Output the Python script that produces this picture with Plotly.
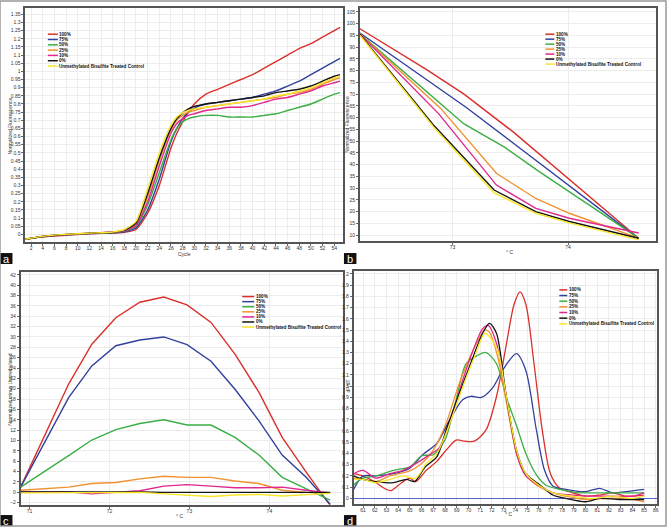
import plotly.graph_objects as go

W, H = 668, 527

NAMES = ["100%", "75%", "50%", "25%", "10%", "0%", "Unmethylated Bisulfite Treated Control"]
COLORS = ["#d9302c", "#33409c", "#3cae45", "#f0922e", "#e0288e", "#141414", "#f7e62a"]

# ---- panel a: amplification (normalized fluorescence vs cycle)
A_CYCLES = [1, 4, 8, 12, 16, 18, 20, 22, 24, 26, 27, 28, 29, 30, 32, 34, 36, 38, 40, 42, 44, 46, 48, 50, 52, 54, 55]
A_RED = [-0.03, -0.015, -0.005, 0.004, 0.008, 0.012, 0.03, 0.13, 0.30, 0.53, 0.62, 0.69, 0.75, 0.80, 0.86, 0.89, 0.92, 0.95, 0.98, 1.02, 1.06, 1.10, 1.14, 1.17, 1.21, 1.25, 1.27]
A_BLUE = [-0.03, -0.014, -0.003, 0.005, 0.010, 0.016, 0.04, 0.15, 0.34, 0.57, 0.65, 0.71, 0.75, 0.775, 0.80, 0.81, 0.82, 0.83, 0.84, 0.86, 0.88, 0.91, 0.94, 0.98, 1.02, 1.06, 1.08]
A_GREEN = [-0.03, -0.013, -0.002, 0.006, 0.012, 0.02, 0.05, 0.18, 0.38, 0.58, 0.65, 0.69, 0.71, 0.72, 0.73, 0.73, 0.72, 0.72, 0.72, 0.73, 0.74, 0.76, 0.78, 0.80, 0.83, 0.86, 0.87]
A_ORANGE = [-0.03, -0.012, 0.0, 0.007, 0.014, 0.025, 0.065, 0.23, 0.45, 0.64, 0.70, 0.73, 0.75, 0.76, 0.78, 0.79, 0.80, 0.81, 0.82, 0.83, 0.84, 0.86, 0.87, 0.89, 0.92, 0.95, 0.96]
A_PINK = [-0.03, -0.012, -0.002, 0.006, 0.016, 0.022, 0.055, 0.20, 0.42, 0.62, 0.68, 0.71, 0.73, 0.74, 0.76, 0.77, 0.78, 0.78, 0.79, 0.81, 0.83, 0.84, 0.86, 0.88, 0.91, 0.93, 0.94]
A_BLACK = [-0.03, -0.013, -0.001, 0.007, 0.013, 0.026, 0.07, 0.25, 0.47, 0.65, 0.71, 0.745, 0.77, 0.785, 0.80, 0.81, 0.82, 0.83, 0.84, 0.85, 0.87, 0.88, 0.89, 0.91, 0.94, 0.97, 0.98]
A_YELLOW = [-0.03, -0.012, 0.0, 0.008, 0.015, 0.03, 0.08, 0.28, 0.50, 0.67, 0.72, 0.745, 0.76, 0.77, 0.78, 0.79, 0.80, 0.81, 0.82, 0.83, 0.85, 0.86, 0.88, 0.90, 0.93, 0.96, 0.97]

# ---- panel b: normalized melt fluorescence vs temperature
B_RED_T = [72.20, 72.77, 73.10, 73.53, 74.61]
B_RED_V = [97.8, 80.6, 70.0, 53.7, 8.7]
B_BLUE_T = [72.20, 73.12, 73.53, 74.61]
B_BLUE_V = [96.0, 64.3, 49.0, 8.5]
B_GREEN_T = [72.20, 73.10, 73.45, 73.75, 74.61]
B_GREEN_V = [95.6, 57.3, 47.4, 37.0, 8.7]
B_ORANGE_T = [72.20, 72.90, 73.38, 73.72, 74.01, 74.61]
B_ORANGE_V = [95.6, 63.8, 36.3, 25.6, 19.3, 8.7]
B_PINK_T = [72.20, 72.88, 73.38, 73.72, 74.01, 74.61]
B_PINK_V = [95.6, 61.7, 31.3, 21.4, 17.2, 10.9]
B_BLACK_T = [72.20, 72.84, 73.36, 73.72, 74.01, 74.61]
B_BLACK_V = [95.4, 56.6, 29.2, 20.0, 15.8, 8.7]
B_YELLOW_T = [72.20, 72.84, 73.36, 73.72, 74.01, 74.61]
B_YELLOW_V = [95.0, 55.8, 28.0, 19.3, 15.2, 8.0]

# ---- panel c: normalized minus unmethylated
C_T = [70.89, 71.19, 71.49, 71.78, 72.08, 72.38, 72.68, 72.97, 73.27, 73.57, 73.87, 74.16, 74.46, 74.76]
C_RED = [1.0, 11.0, 20.9, 28.6, 33.7, 36.7, 37.7, 36.2, 32.8, 26.7, 19.3, 10.6, 3.9, -2.5]
C_BLUE = [1.0, 9.7, 18.3, 24.4, 28.3, 29.4, 30.0, 28.5, 25.3, 19.9, 13.8, 7.2, 2.9, -2.3]
C_GREEN = [1.0, 4.0, 7.1, 10.1, 12.1, 13.3, 14.0, 13.0, 13.0, 10.6, 7.2, 2.9, 0.7, -1.5]
C_ORANGE = [0.4, 0.7, 1.0, 1.7, 1.9, 2.6, 3.1, 2.9, 2.9, 2.2, 1.7, 0.4, 0.0, -0.2]
C_PINK = [0.1, 0.1, 0.1, -0.3, 0.0, 0.3, 1.2, 1.5, 1.2, 0.9, 0.9, 1.0, 0.4, -0.1]
C_BLACK = [0.1, 0.1, 0.15, 0.05, 0.1, 0.1, 0.0, 0.0, 0.0, 0.0, 0.0, 0.0, 0.0, 0.0]
C_YELLOW = [-0.1, -0.1, -0.1, 0.0, 0.0, 0.0, -0.3, -0.6, -0.8, -0.5, -0.4, -0.7, -0.4, -0.2]

# ---- panel d: dF/dT melt peaks
D_RED_T = [60.2, 61, 62.1, 63, 63.4, 64.3, 65, 65.5, 66.4, 67.3, 68.1, 68.95, 69.7, 70.5, 71.5, 72.4, 73.2, 73.9, 74.4, 74.9, 75.6, 76.3, 77, 77.8, 78.9, 80, 81.2, 82.3, 83.4, 85]
D_RED_V = [0.22, 0.20, 0.14, 0.08, 0.07, 0.14, 0.18, 0.15, 0.25, 0.33, 0.43, 0.52, 0.51, 0.51, 0.61, 0.91, 1.35, 1.73, 1.84, 1.73, 1.20, 0.61, 0.22, 0.09, 0.05, 0.02, 0.03, 0.05, 0.02, 0.03]
D_BLUE_T = [60.2, 61, 62.1, 63.6, 65, 66.1, 67.3, 68.4, 69.5, 70.2, 71.1, 72.1, 72.9, 74.1, 74.9, 75.8, 76.5, 77.2, 78.3, 80, 81.2, 82.3, 83.4, 85]
D_BLUE_V = [0.08, 0.2, 0.2, 0.22, 0.27, 0.39, 0.49, 0.70, 0.88, 0.91, 0.90, 0.99, 1.14, 1.29, 1.14, 0.61, 0.25, 0.11, 0.08, 0.06, 0.09, 0.05, 0.06, 0.08]
D_GREEN_T = [60.2, 61, 62.1, 63.3, 64.1, 65, 66, 67, 68, 68.95, 69.8, 70.7, 71.5, 72.4, 73.2, 74.1, 74.9, 75.8, 76.6, 77.8, 79.5, 81.2, 82.9, 85]
D_GREEN_V = [0.12, 0.18, 0.2, 0.24, 0.26, 0.28, 0.38, 0.39, 0.52, 0.88, 1.2, 1.27, 1.30, 1.2, 0.91, 0.65, 0.40, 0.21, 0.12, 0.08, 0.05, 0.05, 0.05, 0.05]
D_ORANGE_T = [60.2, 61, 62.1, 63.3, 64.1, 65.1, 66, 67, 68.1, 69.2, 70.4, 71.4, 71.8, 72.5, 73.2, 74.1, 74.8, 75.8, 77.2, 78.3, 80, 81.7, 83.4, 85]
D_ORANGE_V = [0.18, 0.17, 0.15, 0.2, 0.22, 0.25, 0.31, 0.43, 0.67, 1.02, 1.32, 1.50, 1.48, 1.26, 0.88, 0.40, 0.22, 0.12, 0.05, 0.02, -0.01, 0.0, 0.0, -0.03]
D_PINK_T = [60.2, 61, 62.1, 63.3, 64.4, 65.5, 66.7, 67.5, 68.4, 69.5, 70.4, 71.2, 71.7, 72.4, 73.2, 74.1, 74.9, 76.1, 77.2, 78.9, 80.6, 82.3, 84, 85]
D_PINK_V = [0.22, 0.25, 0.18, 0.22, 0.25, 0.31, 0.39, 0.45, 0.67, 1.05, 1.32, 1.51, 1.54, 1.38, 0.93, 0.40, 0.20, 0.11, 0.05, 0.03, 0.02, 0.02, 0.02, 0.05]
D_BLACK_T = [60.2, 61, 62.1, 63.6, 64.7, 65.4, 66.3, 67.3, 68.1, 69.2, 70.4, 71.2, 71.8, 72.4, 73.2, 74.1, 74.9, 76.1, 77.2, 78.3, 80, 81.2, 82.9, 85]
D_BLACK_V = [0.2, 0.17, 0.15, 0.14, 0.17, 0.15, 0.28, 0.37, 0.61, 0.93, 1.26, 1.47, 1.56, 1.47, 0.93, 0.43, 0.22, 0.12, 0.03, 0.0, -0.03, 0.0, -0.01, -0.01]
D_YELLOW_T = [60.2, 61, 62.1, 63.3, 64.4, 65.5, 66.4, 67.3, 68.2, 69.4, 70.4, 71.4, 71.8, 72.5, 73.2, 74.1, 74.9, 76.1, 77.2, 78.9, 80.6, 82.3, 84, 85]
D_YELLOW_V = [0.17, 0.17, 0.14, 0.17, 0.2, 0.18, 0.31, 0.4, 0.61, 0.96, 1.23, 1.47, 1.44, 1.32, 0.93, 0.43, 0.22, 0.11, 0.05, 0.02, 0.0, 0.02, 0.0, 0.02]


def fx(px):
    return px / W


def fy(py):
    return 1 - py / H


fig = go.Figure()

A_SERIES = [A_RED, A_BLUE, A_GREEN, A_ORANGE, A_PINK, A_BLACK, A_YELLOW]
for name, col, vals in zip(NAMES, COLORS, A_SERIES):
    fig.add_trace(go.Scatter(x=A_CYCLES, y=vals, mode="lines", name=name, showlegend=False,
                             line=dict(color=col, width=1.4, shape="spline", smoothing=0.6),
                             xaxis="x", yaxis="y"))

B_SERIES = [(B_RED_T, B_RED_V), (B_BLUE_T, B_BLUE_V), (B_GREEN_T, B_GREEN_V), (B_ORANGE_T, B_ORANGE_V),
            (B_PINK_T, B_PINK_V), (B_BLACK_T, B_BLACK_V), (B_YELLOW_T, B_YELLOW_V)]
for name, col, (t, v) in zip(NAMES, COLORS, B_SERIES):
    fig.add_trace(go.Scatter(x=t, y=v, mode="lines", name=name, showlegend=False,
                             line=dict(color=col, width=1.4), xaxis="x2", yaxis="y2"))

C_SERIES = [C_RED, C_BLUE, C_GREEN, C_ORANGE, C_PINK, C_BLACK, C_YELLOW]
for name, col, vals in zip(NAMES, COLORS, C_SERIES):
    fig.add_trace(go.Scatter(x=C_T, y=vals, mode="lines", name=name, showlegend=False,
                             line=dict(color=col, width=1.4), xaxis="x3", yaxis="y3"))

D_SERIES = [(D_RED_T, D_RED_V), (D_BLUE_T, D_BLUE_V), (D_GREEN_T, D_GREEN_V), (D_ORANGE_T, D_ORANGE_V),
            (D_PINK_T, D_PINK_V), (D_BLACK_T, D_BLACK_V), (D_YELLOW_T, D_YELLOW_V)]
for name, col, (t, v) in zip(NAMES, COLORS, D_SERIES):
    fig.add_trace(go.Scatter(x=t, y=v, mode="lines", name=name, showlegend=False,
                             line=dict(color=col, width=1.3, shape="spline", smoothing=0.8),
                             xaxis="x4", yaxis="y4"))

TICKFONT = dict(size=5, color="#333", family="Liberation Sans")


def ax(domain, rng, dtick, tick0, anchor, **kw):
    d = dict(domain=domain, range=rng, dtick=dtick, tick0=tick0, anchor=anchor,
             showline=True, linecolor="#555", linewidth=1.5, mirror=True,
             ticks="outside", ticklen=2, tickwidth=0.8, tickcolor="#666",
             tickfont=TICKFONT, showgrid=True, gridcolor="#ececec", gridwidth=0.6,
             zeroline=False)
    d.update(kw)
    return d


XKW = dict(ticklabelstandoff=-2)

fig.update_layout(
    width=W, height=H, margin=dict(l=0, r=0, t=0, b=0),
    paper_bgcolor="white", plot_bgcolor="white", showlegend=False,
    xaxis=ax([fx(25.3), fx(344)], [1, 55.5], 2, 0, "y", **XKW),
    yaxis=ax([fy(242.3), fy(7.3)], [-0.049, 1.387], 0.05, 0, "x"),
    xaxis2=ax([fx(361), fx(658)], [72.2, 74.76], 1, 0, "y2", **XKW),
    yaxis2=ax([fy(240.7), fy(7.3)], [7.6, 106.5], 5, 0, "x2"),
    xaxis3=ax([fx(20.7), fx(344)], [70.89, 74.92], 1, 0, "y3", **XKW),
    yaxis3=ax([fy(505.7), fy(271.7)], [-2.4, 42.6], 2, 0, "x3"),
    xaxis4=ax([fx(354.7), fx(659)], [60.2, 86.1], 1, 0, "y4", **XKW),
    yaxis4=ax([fy(504.7), fy(271.3)], [-0.048, 2.024], 0.1, 0, "x4",
              zeroline=True, zerolinecolor="#5566c8", zerolinewidth=1.2),
)

LEGFONT = dict(size=4.6, color="#111", family="Liberation Sans")


def add_legend(x_l0, x_l1, x_txt, y0, dy):
    for i, (name, col) in enumerate(zip(NAMES, COLORS)):
        y = y0 + i * dy
        fig.add_shape(type="line", xref="paper", yref="paper", x0=fx(x_l0), x1=fx(x_l1),
                      y0=fy(y), y1=fy(y), line=dict(color=col, width=1.5))
        fig.add_annotation(xref="paper", yref="paper", x=fx(x_txt), y=fy(y), text=f"<b>{name}</b>",
                           showarrow=False, xanchor="left", yanchor="middle", font=LEGFONT,
                           borderpad=0)


add_legend(48, 58, 58.5, 33.3, 5.33)
add_legend(547, 556, 556.5, 33.3, 5.0)
add_legend(243, 255, 255.5, 296.7, 5.1)
add_legend(561, 569, 569.5, 290, 5.67)

TITLEFONT = dict(size=5, color="#333", family="Liberation Sans")
Y_TITLES = [("Normalized Fluorescence", 10, 125), ("Normalized Fluorescence", 347.5, 124),
            ("Normalized minus Unmethylated", 9.3, 390), ("dF/dT", 349, 386)]
for txt, px, py in Y_TITLES:
    fig.add_annotation(xref="paper", yref="paper", x=fx(px), y=fy(py), text=txt, textangle=-90,
                       showarrow=False, xanchor="center", yanchor="middle", font=TITLEFONT)
X_TITLES = [("Cycle", 185, 254), ("° C", 510.7, 251.5), ("° C", 180, 516.5), ("° C", 510, 515)]
for txt, px, py in X_TITLES:
    fig.add_annotation(xref="paper", yref="paper", x=fx(px), y=fy(py), text=txt,
                       showarrow=False, xanchor="center", yanchor="middle", font=TITLEFONT)

# panel letters
for letter, px, py in [("a", 0, 253), ("b", 345, 253), ("c", 0, 516), ("d", 345, 516)]:
    fig.add_shape(type="rect", xref="paper", yref="paper", x0=fx(px), x1=fx(px + 12.5),
                  y0=fy(py + 11), y1=fy(py), fillcolor="#111", line=dict(width=0))
    fig.add_annotation(xref="paper", yref="paper", x=fx(px + 6.25), y=fy(py + 5.5), text=letter,
                       showarrow=False, xanchor="center", yanchor="middle",
                       font=dict(size=11, color="white", family="Liberation Sans"))

# outer frame
fig.add_shape(type="rect", xref="paper", yref="paper", x0=0, x1=1, y0=0, y1=1,
              line=dict(color="#999", width=1.5))

fig.write_html("out.html", config={"displayModeBar": False},
               post_script="document.body.style.margin='0';")
